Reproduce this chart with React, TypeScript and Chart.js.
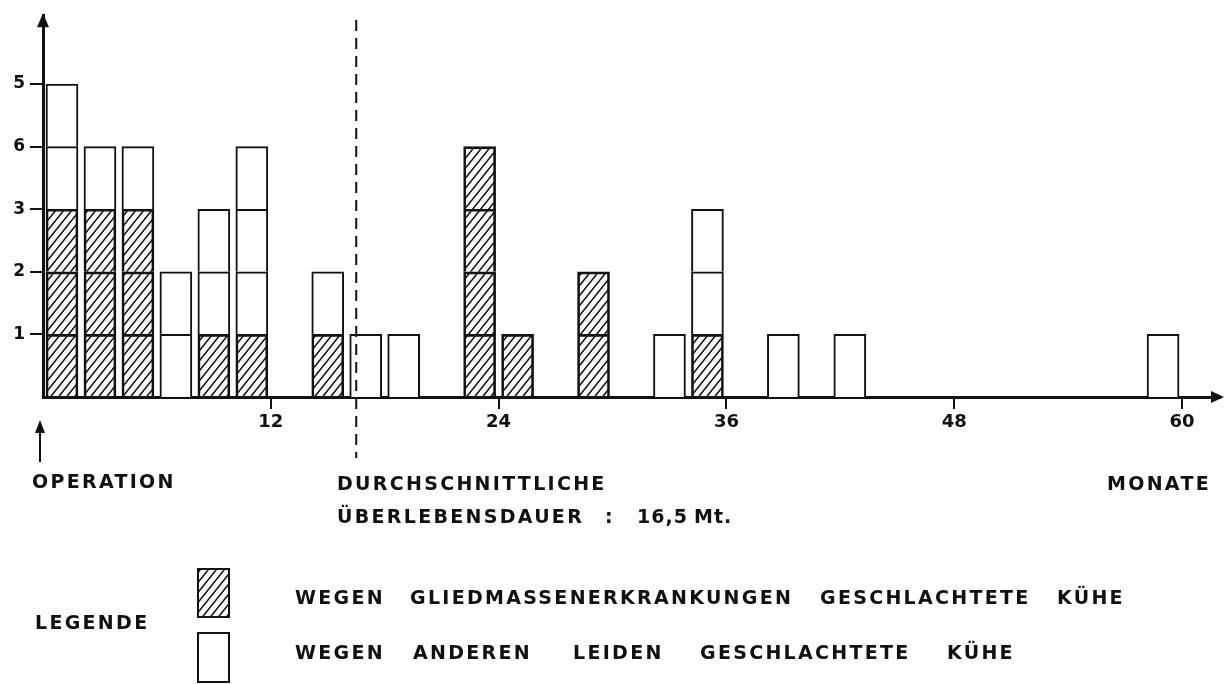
import React, { useEffect, useRef } from "react";
import { Chart, registerables } from "chart.js";

Chart.register(...registerables);

// ---- data ----
const months = [1, 3, 5, 7, 9, 11, 15, 17, 19, 23, 25, 29, 33, 35, 39, 42.5, 59];
const limbCounts = [3, 3, 3, 0, 1, 1, 1, 0, 0, 4, 1, 2, 0, 1, 0, 0, 0];
const otherCounts = [2, 1, 1, 2, 2, 3, 1, 1, 1, 0, 0, 0, 1, 2, 1, 1, 1];
const xTickValues = [12, 24, 36, 48, 60];
const yTickValues = [1, 2, 3, 4, 5];
const yTickLabels = ["1", "2", "3", "6", "5"];
const meanSurvival = 16.5;
const legendLabels = [
  "WEGEN GLIEDMASSENERKRANKUNGEN GESCHLACHTETE KÜHE",
  "WEGEN ANDEREN LEIDEN GESCHLACHTETE KÜHE",
];

// ---- styling / layout ----
const INK = "#111111";
const FONT = "'DejaVu Sans', 'Liberation Sans', sans-serif";

const textStyle: React.CSSProperties = {
  position: "absolute",
  fontFamily: FONT,
  fontWeight: "bold",
  fontSize: 19,
  lineHeight: "19px",
  letterSpacing: "2.3px",
  color: INK,
  whiteSpace: "nowrap",
};

const legendWordX = [
  [295, 410, 820, 1057],
  [295, 413, 573, 700, 947],
];
const legendRowY = [588, 643];

function buildLayers(counts: number[], fill: any, label: string) {
  const max = Math.max(...counts);
  const out: any[] = [];
  for (let k = 1; k <= max; k++) {
    out.push({
      label,
      stack: "s",
      data: months
        .map((m, i) => (counts[i] >= k ? { x: m, y: 1 } : null))
        .filter((d) => d !== null),
      backgroundColor: fill,
      borderColor: INK,
      borderWidth: { top: 2, left: 2, right: 2, bottom: 0 },
      borderSkipped: false,
      barThickness: 32,
    });
  }
  return out;
}

export default function App() {
  const ref = useRef<HTMLCanvasElement>(null);

  useEffect(() => {
    const canvas = ref.current!;
    const pc = document.createElement("canvas");
    pc.width = 8;
    pc.height = 10;
    const p = pc.getContext("2d")!;
    p.strokeStyle = INK;
    p.lineWidth = 1.5;
    p.beginPath();
    p.moveTo(0, 10);
    p.lineTo(8, 0);
    p.moveTo(-4, 5);
    p.lineTo(4, -5);
    p.moveTo(4, 15);
    p.lineTo(12, 5);
    p.stroke();
    const hatch = canvas.getContext("2d")!.createPattern(pc, "repeat");

    const deco = {
      id: "deco",
      afterDraw(chart: any) {
        const { ctx, chartArea } = chart;
        const { left, top, right, bottom } = chartArea;
        const x = chart.scales.x;
        ctx.save();
        ctx.fillStyle = INK;
        ctx.strokeStyle = INK;
        // y axis arrow
        ctx.beginPath();
        ctx.moveTo(left, top - 2);
        ctx.lineTo(left - 6, top + 12);
        ctx.lineTo(left + 6, top + 12);
        ctx.closePath();
        ctx.fill();
        // x axis arrow
        ctx.beginPath();
        ctx.moveTo(right + 4, bottom);
        ctx.lineTo(right - 9, bottom - 6);
        ctx.lineTo(right - 9, bottom + 6);
        ctx.closePath();
        ctx.fill();
        // mean survival dashed line
        const dx = x.getPixelForValue(meanSurvival);
        ctx.lineWidth = 2;
        ctx.setLineDash([11, 7]);
        ctx.beginPath();
        ctx.moveTo(dx, 20);
        ctx.lineTo(dx, 458);
        ctx.stroke();
        // operation arrow
        ctx.setLineDash([]);
        const ox = x.getPixelForValue(0) - 3;
        ctx.beginPath();
        ctx.moveTo(ox, 430);
        ctx.lineTo(ox, 462);
        ctx.stroke();
        ctx.beginPath();
        ctx.moveTo(ox, 420);
        ctx.lineTo(ox - 5, 433);
        ctx.lineTo(ox + 5, 433);
        ctx.closePath();
        ctx.fill();
        // legend markers
        ctx.lineWidth = 2;
        ctx.fillStyle = hatch;
        ctx.fillRect(198, 569, 31, 48);
        ctx.strokeRect(198, 569, 31, 48);
        ctx.fillStyle = "#ffffff";
        ctx.fillRect(198, 633, 31, 49);
        ctx.strokeRect(198, 633, 31, 49);
        ctx.restore();
      },
    };

    const chart = new Chart(canvas, {
      type: "bar",
      data: {
        datasets: [
          ...buildLayers(limbCounts, hatch, legendLabels[0]),
          ...buildLayers(otherCounts, "#ffffff", legendLabels[1]),
        ],
      },
      options: {
        animation: false,
        responsive: false,
        layout: { padding: { left: 0, top: 10, right: 7, bottom: 0 } },
        plugins: { legend: { display: false }, tooltip: { enabled: false } },
        scales: {
          x: {
            type: "linear",
            min: 0,
            max: 62,
            offset: false,
            stacked: true,
            afterBuildTicks: (s: any) => {
              s.ticks = xTickValues.map((v) => ({ value: v }));
            },
            afterFit: (s: any) => {
              s.height = 287;
            },
            grid: {
              display: true,
              offset: false,
              drawOnChartArea: false,
              drawTicks: true,
              tickLength: 12,
              lineWidth: 2,
              color: INK,
            },
            border: { display: true, width: 3, color: INK },
            ticks: {
              padding: 3,
              color: INK,
              maxRotation: 0,
              autoSkip: false,
              font: { family: FONT, size: 18, weight: "bold" },
            },
          },
          y: {
            min: 0,
            max: 6.1,
            stacked: true,
            afterBuildTicks: (s: any) => {
              s.ticks = yTickValues.map((v) => ({ value: v }));
            },
            afterFit: (s: any) => {
              s.width = 43;
            },
            grid: {
              display: true,
              drawOnChartArea: false,
              drawTicks: true,
              tickLength: 13,
              lineWidth: 2,
              color: INK,
            },
            border: { display: true, width: 3, color: INK },
            ticks: {
              padding: 5,
              color: INK,
              autoSkip: false,
              font: { family: FONT, size: 17, weight: "bold" },
              callback: (v: any) => {
                const i = yTickValues.indexOf(Number(v));
                return i >= 0 ? yTickLabels[i] : "";
              },
            },
          },
        },
      },
      plugins: [deco],
    } as any);
    return () => chart.destroy();
  }, []);

  const meanText = String(meanSurvival).replace(".", ",");

  return (
    <div
      style={{
        position: "absolute",
        left: 0,
        top: 0,
        width: 1227,
        height: 684,
        background: "#ffffff",
        overflow: "hidden",
      }}
    >
      <canvas
        ref={ref}
        width={1227}
        height={684}
        style={{ position: "absolute", left: 0, top: 0 }}
      />
      <div style={{ ...textStyle, left: 32, top: 472 }}>OPERATION</div>
      <div style={{ ...textStyle, left: 337, top: 474 }}>DURCHSCHNITTLICHE</div>
      <div style={{ ...textStyle, left: 337, top: 507 }}>ÜBERLEBENSDAUER</div>
      <div style={{ ...textStyle, left: 605, top: 507 }}>:</div>
      <div style={{ ...textStyle, left: 637, top: 507, letterSpacing: "1px" }}>{meanText}</div>
      <div style={{ ...textStyle, left: 694, top: 507, letterSpacing: "1px" }}>Mt.</div>
      <div style={{ ...textStyle, left: 1107, top: 474 }}>MONATE</div>
      <div style={{ ...textStyle, left: 35, top: 613 }}>LEGENDE</div>
      {legendLabels.map((label, r) =>
        label.split(" ").map((w, i) => (
          <div
            key={`${r}-${i}`}
            style={{ ...textStyle, left: legendWordX[r][i], top: legendRowY[r] }}
          >
            {w}
          </div>
        ))
      )}
    </div>
  );
}
